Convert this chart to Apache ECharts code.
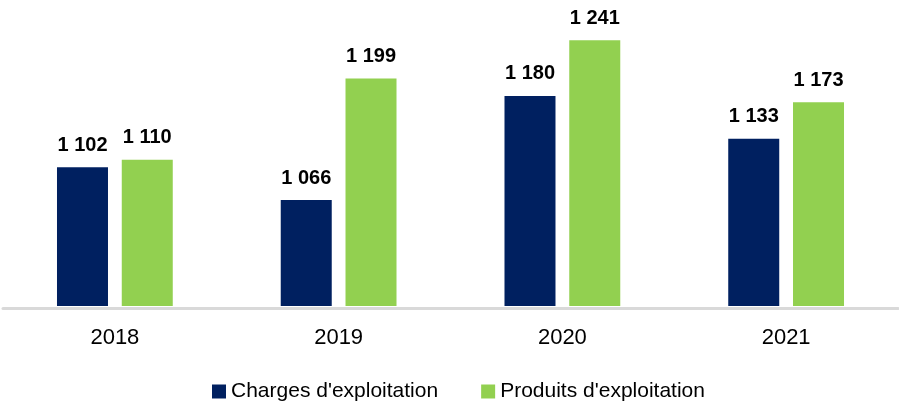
<!DOCTYPE html>
<html>
<head>
<meta charset="utf-8">
<script src="https://cdn.jsdelivr.net/npm/echarts@6/dist/echarts.min.js"></script>
<style>
  html, body { margin: 0; padding: 0; background: #fff; }
  #chart { width: 899px; height: 405px; }
</style>
</head>
<body>
<div id="chart"></div>
<script>
const years = ['2018', '2019', '2020', '2021']
const charges = [1102, 1066, 1180, 1133]
const produits = [1110, 1199, 1241, 1173]
const seriesNames = ["Charges d'exploitation", "Produits d'exploitation"]

const font = "'Liberation Sans', Arial, sans-serif"

// 1102 -> "1 102"
function spaced(v) {
  return String(v).replace(/\B(?=(\d{3})+(?!\d))/g, ' ')
}

const barLabel = {
  show: true,
  position: 'top',
  distance: 12,
  color: '#000',
  fontFamily: font,
  fontWeight: 'bold',
  fontSize: 20,
  formatter: p => spaced(p.value)
}

const chart = echarts.init(document.getElementById('chart'), null, { renderer: 'canvas' })
chart.setOption({
  animation: false,
  grid: {
    left: 3,
    right: 1,
    top: 32,
    bottom: 99
  },
  legend: {
    left: 207,
    top: 376,
    icon: 'rect',
    itemWidth: 14,
    itemHeight: 14,
    itemGap: 43,
    textStyle: {
      fontFamily: font,
      fontSize: 21,
      color: '#000'
    },
    data: seriesNames
  },
  xAxis: {
    type: 'category',
    data: years,
    offset: 2,
    axisLine: {
      lineStyle: { color: '#d9d9d9', width: 3 }
    },
    axisTick: { show: false },
    axisLabel: {
      margin: 19,
      color: '#000',
      fontFamily: font,
      fontSize: 22
    }
  },
  yAxis: {
    type: 'value',
    min: 950,
    max: 1250,
    show: false,
    splitLine: { show: false }
  },
  series: [
    {
      name: seriesNames[0],
      type: 'bar',
      data: charges,
      barWidth: 51,
      barGap: '27%',
      itemStyle: { color: '#002060' },
      label: barLabel
    },
    {
      name: seriesNames[1],
      type: 'bar',
      data: produits,
      barWidth: 51,
      barGap: '27%',
      itemStyle: { color: '#92d050' },
      label: barLabel
    }
  ]
})
</script>
</body>
</html>
